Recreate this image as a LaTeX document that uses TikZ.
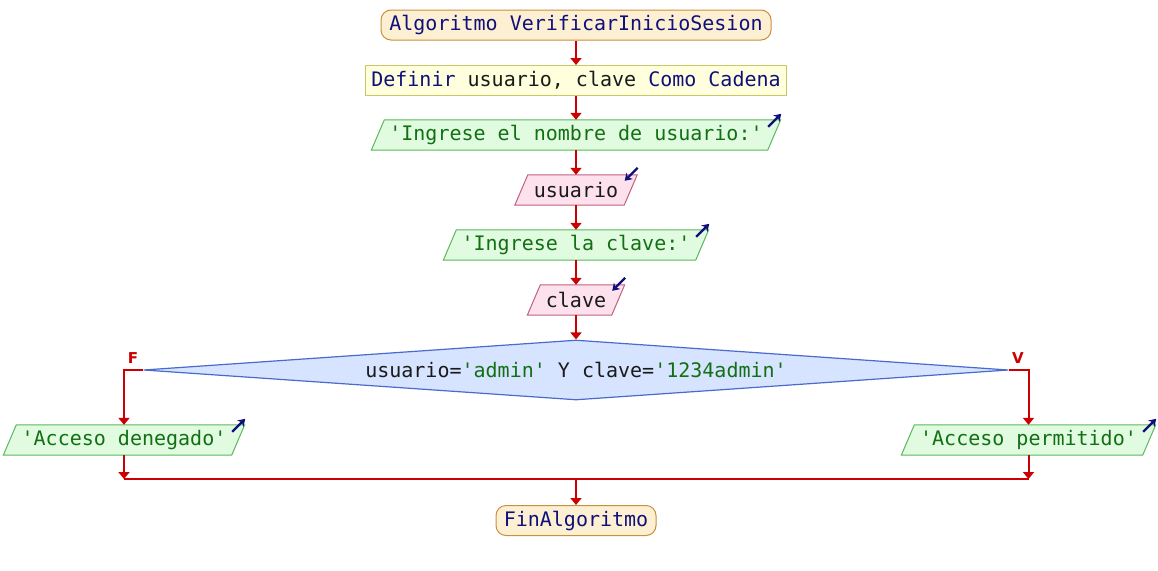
\documentclass[tikz,border=0pt]{standalone}
\usepackage{fontspec}
\setmonofont{DejaVu Sans Mono}
\setsansfont{DejaVu Sans}
\usetikzlibrary{arrows.meta,shapes.geometric,calc}
\pgfdeclarelayer{bg}
\pgfsetlayers{bg,main}
\definecolor{kw}{HTML}{10107A}
\definecolor{idf}{HTML}{1A1A1A}
\definecolor{str}{HTML}{127012}
\definecolor{flowred}{HTML}{CC0000}
\definecolor{termfill}{HTML}{FDF0D2}
\definecolor{termdraw}{HTML}{C8903C}
\definecolor{deffill}{HTML}{FFFFDD}
\definecolor{defdraw}{HTML}{C8C864}
\definecolor{outfill}{HTML}{E0FBE0}
\definecolor{outdraw}{HTML}{5CB85C}
\definecolor{infill}{HTML}{FDE2EE}
\definecolor{indraw}{HTML}{C06080}
\definecolor{decfill}{HTML}{D6E4FF}
\definecolor{decdraw}{HTML}{4A6ACC}
\newcommand{\kw}[1]{\textcolor{kw}{#1}}
\newcommand{\idf}[1]{\textcolor{idf}{#1}}
\newcommand{\str}[1]{\textcolor{str}{#1}}
\newcommand{\drawpara}[2]{%
  \begin{pgfonlayer}{bg}
  \draw[#2] ($(#1.north west)+(6.5,0)$) -- ($(#1.north east)+(6.5,0)$) --
    ($(#1.south east)+(-6.5,0)$) -- ($(#1.south west)+(-6.5,0)$) -- cycle;
  \end{pgfonlayer}}
\tikzset{
  base/.style={font=\ttfamily\fontsize{20}{24}\selectfont, inner sep=0pt, minimum height=30pt},
  term/.style={base, draw=termdraw, fill=termfill, line width=1pt, rounded corners=10pt},
  defbox/.style={base, draw=defdraw, fill=deffill, line width=1pt},
  paratext/.style={base},
  outpara/.style={draw=outdraw, fill=outfill, line width=1pt},
  inparab/.style={draw=indraw, fill=infill, line width=1pt},
  decision/.style={base, shape=diamond, aspect=14, draw=decdraw, fill=decfill, line width=1.2pt,
     minimum width=865pt, minimum height=60pt},
  flow/.style={draw=flowred, line width=2pt, -{Triangle[width=11pt,length=7pt]}},
  flowline/.style={draw=flowred, line width=2pt},
  icon/.style={draw=kw, line width=2.2pt, -{Stealth[length=7pt,width=9pt]}},
  branch/.style={text=flowred, font=\sffamily\bfseries\fontsize{15}{16}\selectfont, inner sep=0pt}
}
\begin{document}
\begin{tikzpicture}[x=1pt,y=-1pt]
\useasboundingbox (0,0) rectangle (1158,570);

\node[term, minimum width=390pt] (start) at (576,25) {\kw{Algoritmo VerificarInicioSesion}};
\node[defbox, minimum width=421pt] (def) at (576,80.5) {\kw{Definir} \idf{usuario, clave} \kw{Como Cadena}};

\node[paratext, minimum width=396pt] (o1) at (576,135) {\str{'Ingrese el nombre de usuario:'}};
\drawpara{o1}{outpara}
\node[paratext, minimum width=109pt] (i1) at (576,190) {\idf{usuario}};
\drawpara{i1}{inparab}
\node[paratext, minimum width=252pt] (o2) at (576,245) {\str{'Ingrese la clave:'}};
\drawpara{o2}{outpara}
\node[paratext, minimum width=84pt] (i2) at (576,300) {\idf{clave}};
\drawpara{i2}{inparab}

\node[decision] (dec) at (576,370) {\idf{usuario=}\str{'admin'} \idf{Y clave=}\str{'1234admin'}};

\node[paratext, minimum width=228pt] (o3) at (124,440) {\str{'Acceso denegado'}};
\drawpara{o3}{outpara}
\node[paratext, minimum width=241pt] (o4) at (1028.5,440) {\str{'Acceso permitido'}};
\drawpara{o4}{outpara}

\node[term, minimum width=160pt] (end) at (576,520.5) {\kw{FinAlgoritmo}};

\node[branch] (lf) at (133,358) {F};
\node[branch] (lv) at (1018,358) {V};

% icons
\draw[icon] ($(o1.north east)+(-6,7)$) -- ($(o1.north east)+(7,-6)$);
\draw[icon] ($(o2.north east)+(-6,7)$) -- ($(o2.north east)+(7,-6)$);
\draw[icon] ($(o3.north east)+(-6,7)$) -- ($(o3.north east)+(7,-6)$);
\draw[icon] ($(o4.north east)+(-6,7)$) -- ($(o4.north east)+(7,-6)$);
\draw[icon] ($(i1.north east)+(7,-7)$) -- ($(i1.north east)+(-6,6)$);
\draw[icon] ($(i2.north east)+(7,-7)$) -- ($(i2.north east)+(-6,6)$);

% connectors
\draw[flow] (start) -- (def);
\draw[flow] (def) -- (o1);
\draw[flow] (o1) -- (i1);
\draw[flow] (i1) -- (o2);
\draw[flow] (o2) -- (i2);
\draw[flow] (i2) -- (dec);
\draw[flow] (dec.west) -| (o3.north);
\draw[flow] (dec.east) -| (o4.north);
\coordinate (jl) at (124,479);
\coordinate (jr) at (1028.5,479);
\coordinate (jm) at (576,479);
\draw[flow] (o3.south) -- (jl);
\draw[flow] (o4.south) -- (jr);
\draw[flowline] (jl) -- (jr);
\draw[flow] (jm) -- (end);
\end{tikzpicture}
\end{document}
